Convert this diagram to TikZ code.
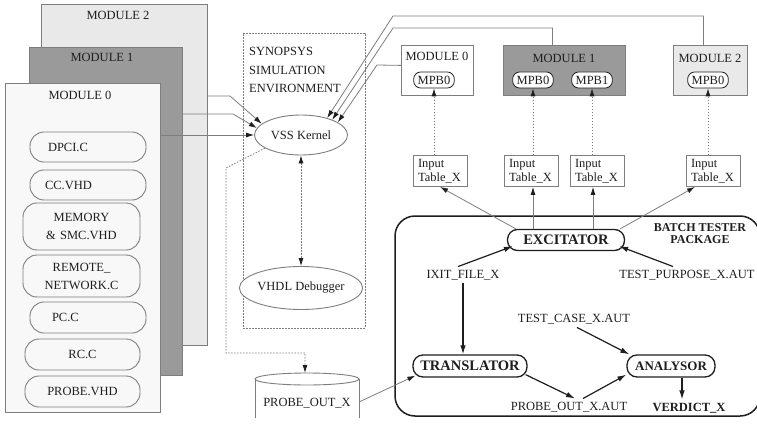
\documentclass[tikz,border=0pt]{standalone}
\usepackage{fontspec}
\setmainfont{Liberation Serif}
\usetikzlibrary{shapes.geometric,arrows.meta,calc}
\definecolor{lightmod}{HTML}{E9E9E9}
\definecolor{darkmod}{HTML}{9A9A9A}
\definecolor{paper}{HTML}{F8F8F8}
\definecolor{edge}{HTML}{7E7E7E}
\definecolor{ink}{HTML}{1E1E1E}
\begin{document}
\begin{tikzpicture}[x=1pt,y=-1pt,
  font=\fontsize{12.5}{15}\selectfont,
  every node/.style={text=ink},
  modbox/.style={draw=edge, line width=0.8pt, anchor=north west, inner sep=0pt},
  filebox/.style={draw=edge, line width=0.9pt, fill=paper, rounded corners=14pt,
    minimum height=30pt, inner ysep=2pt, font=\fontsize{12.5}{18}\selectfont},
  synbox/.style={draw=edge, line width=0.8pt, dash pattern=on 2pt off 1pt},
  ell/.style={ellipse, draw=edge, line width=0.9pt, fill=white, inner sep=0pt},
  mpb/.style={draw=ink, line width=0.8pt, fill=white, rounded corners=7pt,
    minimum height=16pt, inner xsep=4pt, inner ysep=1pt},
  intab/.style={draw=edge, line width=0.8pt, fill=white, text width=44pt, inner xsep=5pt,
    minimum height=31pt, align=left, font=\fontsize{12.5}{14}\selectfont},
  proc/.style={draw=ink, line width=1.3pt, rounded corners=10pt, inner sep=0pt,
    font=\bfseries\fontsize{14.5}{16}\selectfont},
  gcon/.style={draw=edge, line width=0.8pt, -{Latex[length=8pt,width=5pt,color=ink]}},
  dcon/.style={gcon, dash pattern=on 1.5pt off 1.5pt},
  bcon/.style={draw=ink, line width=1.2pt, -{Latex[length=9pt,width=5.5pt]}}
]
\fill[white] (0,0) rectangle (757,425);
\useasboundingbox (0,0) rectangle (757,425);

% ---- stacked module sheets on the left
\node[modbox, fill=lightmod, minimum width=166pt, minimum height=341pt] (m2) at (41,4) {};
\node[modbox, fill=darkmod, minimum width=153pt, minimum height=328pt] (m1) at (29,47) {};
\node[modbox, fill=paper, minimum width=155pt, minimum height=329pt] (m0) at (5,83) {};
\node (m2lbl) at (118,15) {MODULE 2};
\node (m1lbl) at (102,57) {MODULE 1};
\node (m0lbl) at (80,95) {MODULE 0};

% ---- source files of module 0
\node[filebox, text width=80pt, align=left, inner xsep=18pt] (dpci) at (88,147) {DPCI.C};
\node[filebox, text width=86pt, align=left, inner xsep=15pt] (cc) at (88,185) {CC.VHD};
\node[filebox, text width=109pt, align=center, inner xsep=4pt, minimum height=47pt] (mem) at (81.5,226.5) {MEMORY\\\& SMC.VHD};
\node[filebox, text width=109pt, align=center, inner xsep=4pt, minimum height=42pt] (rnet) at (81.5,276) {REMOTE\_\\NETWORK.C};
\node[filebox, text width=72pt, align=left, inner xsep=22pt, minimum height=31pt] (pcc) at (88,317.5) {PC.C};
\node[filebox, text width=107pt, align=center, inner xsep=4pt, minimum height=31pt] (rcc) at (82.5,354.5) {RC.C};
\node[filebox, text width=107pt, align=center, inner xsep=4pt, minimum height=31pt] (pvhd) at (82.5,391.5) {PROBE.VHD};

% ---- simulation environment
\node[synbox, minimum width=122pt, minimum height=295pt] (syn) at (304,180.5) {};
\node[align=left, anchor=north west, inner sep=0pt, font=\fontsize{12.5}{18.5}\selectfont] (syntxt) at (249,47.5) {SYNOPSYS\\SIMULATION\\ENVIRONMENT};
\node[ell, minimum width=93pt, minimum height=40pt] (vss) at (301,135) {VSS Kernel};
\node[ell, minimum width=102pt, minimum height=43pt] (dbg) at (301,288) {VHDL Debugger};

% ---- probe output file
\draw[edge, line width=0.9pt] (255,418) -- (255,379) (359,379) -- (359,418);
\draw[edge, line width=0.9pt, fill=white] (307,379) ellipse (52pt and 6pt);
\node[inner sep=0pt] (probe) at (307,403) {PROBE\_OUT\_X};
\coordinate (cyltop) at (305,373);
\coordinate (cylside) at (359,402);

% ---- target modules on the right
\node[modbox, fill=white, minimum width=72pt, minimum height=50pt] (rm0) at (401,45) {};
\node[modbox, fill=darkmod, minimum width=122pt, minimum height=50pt] (rm1) at (503,45) {};
\node[modbox, fill=lightmod, minimum width=74pt, minimum height=50pt] (rm2) at (673,45) {};
\node (rm0lbl) at (437,56) {MODULE 0};
\node (rm1lbl) at (564,58) {MODULE 1};
\node (rm2lbl) at (710,58) {MODULE 2};
\node[mpb] (mpbA) at (434,80) {MPB0};
\node[mpb] (mpbB) at (533,80) {MPB0};
\node[mpb] (mpbC) at (592,80) {MPB1};
\node[mpb] (mpbD) at (708,80) {MPB0};

\node[intab] (itA) at (440,171) {Input\\Table\_X};
\node[intab] (itB) at (531,171) {Input\\Table\_X};
\node[intab] (itC) at (597,171) {Input\\Table\_X};
\node[intab] (itD) at (713,171) {Input\\Table\_X};

% ---- batch tester package
\node[draw=ink, line width=1.5pt, rounded corners=20pt, minimum width=365pt, minimum height=200pt, inner sep=0pt] (batch) at (577.5,316) {};
\node[align=center, font=\bfseries\fontsize{12}{11.5}\selectfont] (btp) at (700,233.5) {BATCH TESTER\\PACKAGE};
\node[proc, minimum width=117pt, minimum height=21pt] (exc) at (566,240) {EXCITATOR};
\node[proc, minimum width=114pt, minimum height=22pt] (trans) at (470,366) {TRANSLATOR};
\node[proc, minimum width=88pt, minimum height=22pt, font=\bfseries\fontsize{13}{15}\selectfont] (ana) at (671,366) {ANALYSOR};
\node (ixit) at (463,275) {IXIT\_FILE\_X};
\node (tp) at (687,275) {TEST\_PURPOSE\_X.AUT};
\node (tc) at (574,319) {TEST\_CASE\_X.AUT};
\node (poa) at (569,407) {PROBE\_OUT\_X.AUT};
\node[font=\bfseries\fontsize{12.5}{15}\selectfont] (verdict) at (689,408) {VERDICT\_X};

% ---- bend points of the routed connectors
\coordinate (b2) at (230,96);
\coordinate (b1) at (233,114);
\coordinate (r1) at (226,168);
\coordinate (r2) at (226,353);
\coordinate (t2) at (393,16);
\coordinate (t1) at (393,28);
\coordinate (t0) at (377,65);

% ---- module sheets into the kernel
\draw[gcon] ([yshift=-92pt]m2.north east) -- (b2) -- (vss.164);
\draw[gcon] ([yshift=-67pt]m1.north east) -- (b1) -- (vss.171);
\draw[gcon] (m0.east |- vss.west) -- (vss.west);
\draw[dcon] (vss.200) -- (r1) -- (r2) -| (cyltop);
\draw[dcon, {Latex[length=8pt,width=5pt,color=ink]}-{Latex[length=8pt,width=5pt,color=ink]}] (vss.south) -- (dbg.north);

% ---- target modules back into the kernel
\draw[gcon] ([xshift=-7pt]rm2.north) |- (t2) -- (vss.33);
\draw[gcon] ([xshift=-12pt]rm1.north) |- (t1) -- (vss.26);
\draw[gcon] ([yshift=5pt]rm0.west) -- (t0) -- (vss.19);

% ---- input tables into the processor blocks
\draw[dcon] (mpbA.south |- itA.north) -- (mpbA.south);
\draw[dcon] (mpbB.south |- itB.north) -- (mpbB.south);
\draw[dcon] (mpbC.south |- itC.north) -- (mpbC.south);
\draw[dcon] (mpbD.south |- itD.north) -- (mpbD.south);

% ---- excitator feeding the input tables
\draw[gcon] ([xshift=9pt]exc.north west) -- (itA.south);
\draw[gcon] ([xshift=2pt]itB.south |- exc.north) -- ([xshift=2pt]itB.south);
\draw[gcon] ([xshift=-4pt]itC.south |- exc.north) -- ([xshift=-4pt]itC.south);
\draw[gcon] ([xshift=-5pt]exc.north east) -- ([xshift=-18pt]itD.south);

% ---- flow inside the batch tester
\draw[bcon] ([xshift=-5pt]ixit.north) -- ([shift={(6pt,5pt)}]exc.south west);
\draw[bcon] ([xshift=-14pt]tp.north) -- ([shift={(-6pt,5pt)}]exc.south east);
\draw[bcon] (ixit.south) -- (ixit.south |- trans.north);
\draw[bcon] ([xshift=3pt]tc.south) -- ([xshift=3pt]ana.north west);
\draw[bcon] ([shift={(-2pt,3pt)}]trans.south east) -- ([xshift=6pt]poa.north);
\draw[bcon] ([xshift=14pt]poa.north) -- ([shift={(0pt,3pt)}]ana.south west);
\draw[bcon] ([xshift=11pt]ana.south) -- ([xshift=11pt]ana.south |- verdict.north);
\draw[gcon] (cylside) -- ([shift={(3pt,2pt)}]trans.south west);
\end{tikzpicture}
\end{document}
